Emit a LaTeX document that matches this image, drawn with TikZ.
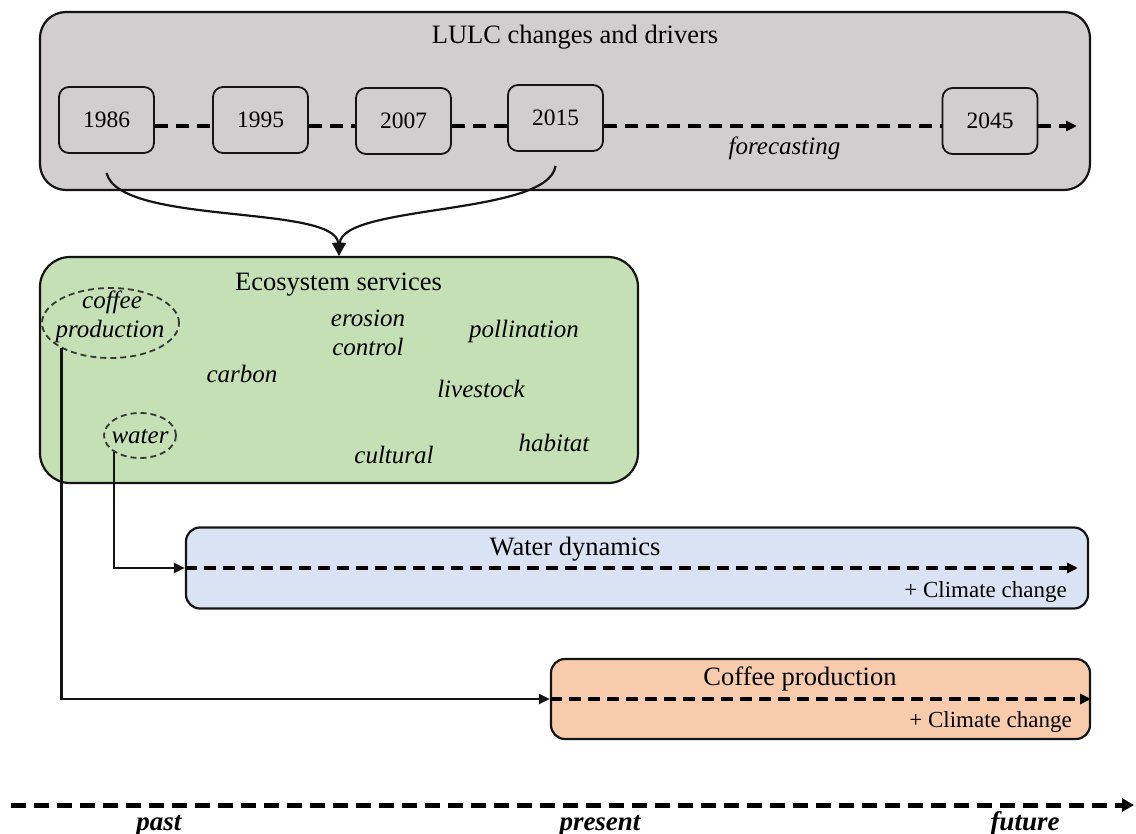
\documentclass[tikz,border=0pt]{standalone}
\usepackage{fontspec}
\setmainfont{Liberation Serif}
\usetikzlibrary{arrows.meta,shapes.geometric}
\definecolor{lulcgray}{RGB}{208,206,206}
\definecolor{esgreen}{RGB}{197,224,180}
\definecolor{wdblue}{RGB}{218,227,243}
\definecolor{cporange}{RGB}{248,203,173}
\definecolor{inkc}{RGB}{20,20,20}
\tikzset{
  bigbox/.style={draw=inkc, line width=2.2pt, rectangle, inner sep=0pt},
  yearbox/.style={draw=inkc, line width=1.8pt, rectangle, rounded corners=10pt,
    minimum width=95pt, minimum height=66pt, inner sep=0pt,
    font=\fontsize{23.5}{26}\selectfont},
  title/.style={anchor=base, inner sep=0pt, font=\fontsize{26.5}{30}\selectfont},
  es/.style={anchor=base, inner sep=0pt, font=\fontsize{25}{29}\selectfont\itshape},
  cc/.style={anchor=base east, inner sep=0pt, font=\fontsize{23}{26}\selectfont},
  tl/.style={anchor=base, inner sep=0pt, font=\fontsize{27}{30}\selectfont\bfseries\itshape},
  dashline/.style={line width=3.6pt, dash pattern=on 13pt off 8pt},
  tip/.style={-{Triangle[length=11pt,width=10pt]}},
  dell/.style={ellipse, draw=inkc!85, line width=1.8pt, dash pattern=on 6pt off 4pt, inner sep=0pt},
  conn/.style={line width=2.4pt, draw=inkc}
}
\begin{document}
\begin{tikzpicture}[x=1pt,y=-1pt]
\useasboundingbox (0,0) rectangle (1136,834);
\fill[white] (0,0) rectangle (1136,834);

% big boxes
\node[bigbox, fill=lulcgray, rounded corners=26pt, minimum width=1050pt, minimum height=178pt] (lulc) at (565,101) {};
\node[bigbox, fill=esgreen, rounded corners=30pt, minimum width=598pt, minimum height=226pt] (es) at (339,370) {};
\node[bigbox, fill=wdblue, rounded corners=14pt, minimum width=902pt, minimum height=81pt] (wd) at (637,568) {};
\node[bigbox, fill=cporange, rounded corners=14pt, minimum width=539pt, minimum height=80pt] (cp) at (820.5,699) {};

% titles
\node[title] (lulct) at (575,44) {LULC changes and drivers};
\node[title] (est) at (338.5,291) {Ecosystem  services};
\node[title] (wdt) at (575,555) {Water dynamics};
\node[title] (cpt) at (800,685) {Coffee  production};

% years
\node[yearbox] (y86) at (106.5,120) {1986};
\node[yearbox] (y95) at (260.5,120) {1995};
\node[yearbox] (y07) at (403.5,121) {2007};
\node[yearbox] (y15) at (555.5,118) {2015};
\node[yearbox] (y45) at (990,121) {2045};
\coordinate (yend) at (1077,126);

\draw[dashline] ([yshift=-6pt]y86.east) -- ([yshift=-6pt]y95.west);
\draw[dashline] ([yshift=-6pt]y95.east) -- ([yshift=-5pt]y07.west);
\draw[dashline] ([yshift=-5pt]y07.east) -- ([yshift=-8pt]y15.west);
\draw[dashline] ([yshift=-8pt]y15.east) -- ([yshift=-5pt]y45.west);
\draw[dashline, tip] ([yshift=-5pt]y45.east) -- (yend);
\node[es] (fc) at (784.5,155) {forecasting};

% curves to ecosystem services
\draw[line width=2.2pt, inkc, -{Triangle[length=13pt,width=12pt]}] ([yshift=-19pt]y86.south) .. controls +(13,53) and +(-3,-52) .. (es.north);
\draw[line width=2.2pt, inkc, -{Triangle[length=13pt,width=12pt]}] ([yshift=-14pt]y15.south) .. controls +(-7,50) and +(3,-52) .. (es.north);

% ecosystem service items
\node[dell, minimum width=137pt, minimum height=70pt] (cpe) at (110.5,323) {};
\node[es] (coffee) at (112,309) {coffee};
\node[es] (prod) at (110,338) {production};
\node[es] (ero) at (368,327) {erosion};
\node[es] (ctl) at (368,356) {control};
\node[es] (pol) at (524,338) {pollination};
\node[es] (carb) at (242,383) {carbon};
\node[es] (live) at (481,398) {livestock};
\node[dell, minimum width=72pt, minimum height=45pt] (wte) at (140,435.5) {};
\node[es] (water) at (140,443) {water};
\node[es] (cult) at (394,463) {cultural};
\node[es] (hab) at (554,451) {habitat};

% connectors
\draw[conn, tip] (wte.south west) |- (wd.west);
\draw[conn, tip] (cpe.south west) |- (cp.west);

% dashed timelines in boxes
\coordinate (wdend) at (1078,568);
\draw[dashline, dash pattern=on 12pt off 7pt, tip] (wd.west) -- (wdend);
\draw[dashline, dash pattern=on 12pt off 7pt, tip] (cp.west) -- (cp.east);
\node[cc] (cc1) at (1067,597) {+ Climate change};
\node[cc] (cc2) at (1072,727) {+ Climate change};

% bottom timeline
\coordinate (t0) at (11,805);
\coordinate (t1) at (1134,805);
\draw[line width=5pt, dash pattern=on 15pt off 8pt, -{Triangle[length=12pt,width=13pt]}] (t0) -- (t1);
\node[tl] (past) at (159,830) {past};
\node[tl] (pres) at (600,830) {present};
\node[tl] (fut) at (1025,830) {future};
\end{tikzpicture}
\end{document}
